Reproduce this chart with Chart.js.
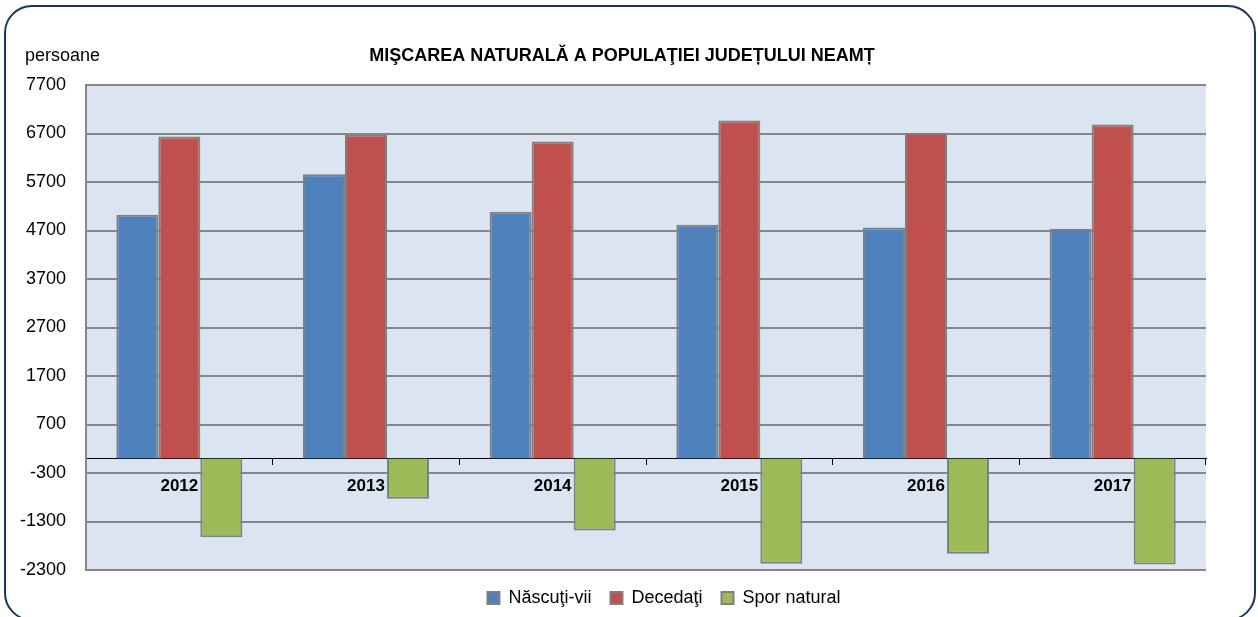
<!DOCTYPE html>
<html>
<head>
<meta charset="utf-8">
<script src="https://cdn.jsdelivr.net/npm/chart.js@4/dist/chart.umd.min.js"></script>
<style>
  html, body { margin: 0; padding: 0; background: #fff; overflow: hidden; width: 1258px; height: 617px; }
  #wrap { position: absolute; left: 0; top: 0; width: 1258px; height: 617px; }
  #frame { position: absolute; left: 4px; top: 5px; width: 1248px; height: 612px; border: 2px solid #17375e; border-radius: 28px; pointer-events: none; }
  #unit { position: absolute; left: 25px; top: 45px; font: 18px "Liberation Sans", Arial, sans-serif; color: #000; }
</style>
</head>
<body>
<div id="wrap"><canvas id="chart"></canvas></div>
<div id="frame"></div>
<div id="unit">persoane</div>
<script>
// Mişcarea naturală a populaţiei - judeţul Neamţ

var years = ['2012', '2013', '2014', '2015', '2016', '2017'];
var nascuti = [5025, 5862, 5085, 4818, 4763, 4736];
var decedati = [6639, 6674, 6536, 6969, 6715, 6887];
var spor = [-1623, -831, -1485, -2172, -1966, -2186];
var yTicks = [-2300, -1300, -300, 700, 1700, 2700, 3700, 4700, 5700, 6700, 7700];

var plotBackground = {
  id: 'plotBackground',
  beforeDraw: function (chart) {
    var a = chart.chartArea;
    var ctx = chart.ctx;
    ctx.save();
    ctx.fillStyle = '#dbe5f1';
    ctx.fillRect(a.left, a.top, a.right - a.left, a.bottom - a.top);
    ctx.restore();
  }
};

// legend sits a bit right of the plot centre in the original
var legendShift = {
  id: 'legendShift',
  afterLayout: function (chart) {
    if (chart.legend) {
      chart.legend.left += 18;
      chart.legend.right += 18;
    }
  }
};

function barSet(label, data, color) {
  return {
    label: label,
    data: data,
    backgroundColor: color,
    borderColor: '#808080',
    borderWidth: 2,
    barPercentage: 1.0,
    categoryPercentage: 0.675
  };
}

var ctx = document.getElementById('chart').getContext('2d');
new Chart(ctx, {
  type: 'bar',
  data: {
    labels: years,
    datasets: [
      barSet('Născuţi-vii', nascuti, '#4f81bd'),
      barSet('Decedaţi', decedati, '#c0504d'),
      barSet('Spor natural', spor, '#9bbb59')
    ]
  },
  options: {
    responsive: true,
    maintainAspectRatio: false,
    animation: false,
    layout: { padding: { left: 0, right: 14, top: 0, bottom: 0 } },
    scales: {
      x: {
        position: { y: 0 },
        grid: { offset: true, drawOnChartArea: false, drawTicks: true, tickLength: 6, color: '#000', lineWidth: 1 },
        border: { display: true, color: '#000', width: 1 },
        ticks: { color: '#000', padding: 12, font: { family: 'Liberation Sans', size: 17, weight: 'bold' } }
      },
      y: {
        min: -2300,
        max: 7700,
        afterBuildTicks: function (scale) {
          scale.ticks = yTicks.map(function (v) { return { value: v }; });
        },
        afterFit: function (scale) { scale.width = 86; },
        grid: { color: '#878787', lineWidth: 2, drawTicks: false },
        border: { display: true, color: '#878787', width: 2 },
        ticks: {
          color: '#000',
          padding: 20,
          font: { family: 'Liberation Sans', size: 18 },
          callback: function (v) { return String(v); }
        }
      },
      y2: {
        position: 'right',
        display: true,
        grid: { display: false },
        border: { display: false },
        ticks: { display: false },
        afterFit: function (scale) { scale.width = 38; }
      }
    },
    plugins: {
      title: {
        display: true,
        text: 'MIŞCAREA NATURALĂ A POPULAŢIEI JUDEȚULUI NEAMȚ',
        color: '#000',
        font: { family: 'Liberation Sans', size: 18, weight: 'bold' },
        padding: { top: 45, bottom: 18.4 }
      },
      legend: {
        position: 'bottom',
        fullSize: false,
        labels: {
          color: '#000',
          boxWidth: 12,
          boxHeight: 12,
          padding: 19,
          font: { family: 'Liberation Sans', size: 18 }
        }
      },
      tooltip: { enabled: false }
    }
  },
  plugins: [plotBackground, legendShift]
});
</script>
</body>
</html>
